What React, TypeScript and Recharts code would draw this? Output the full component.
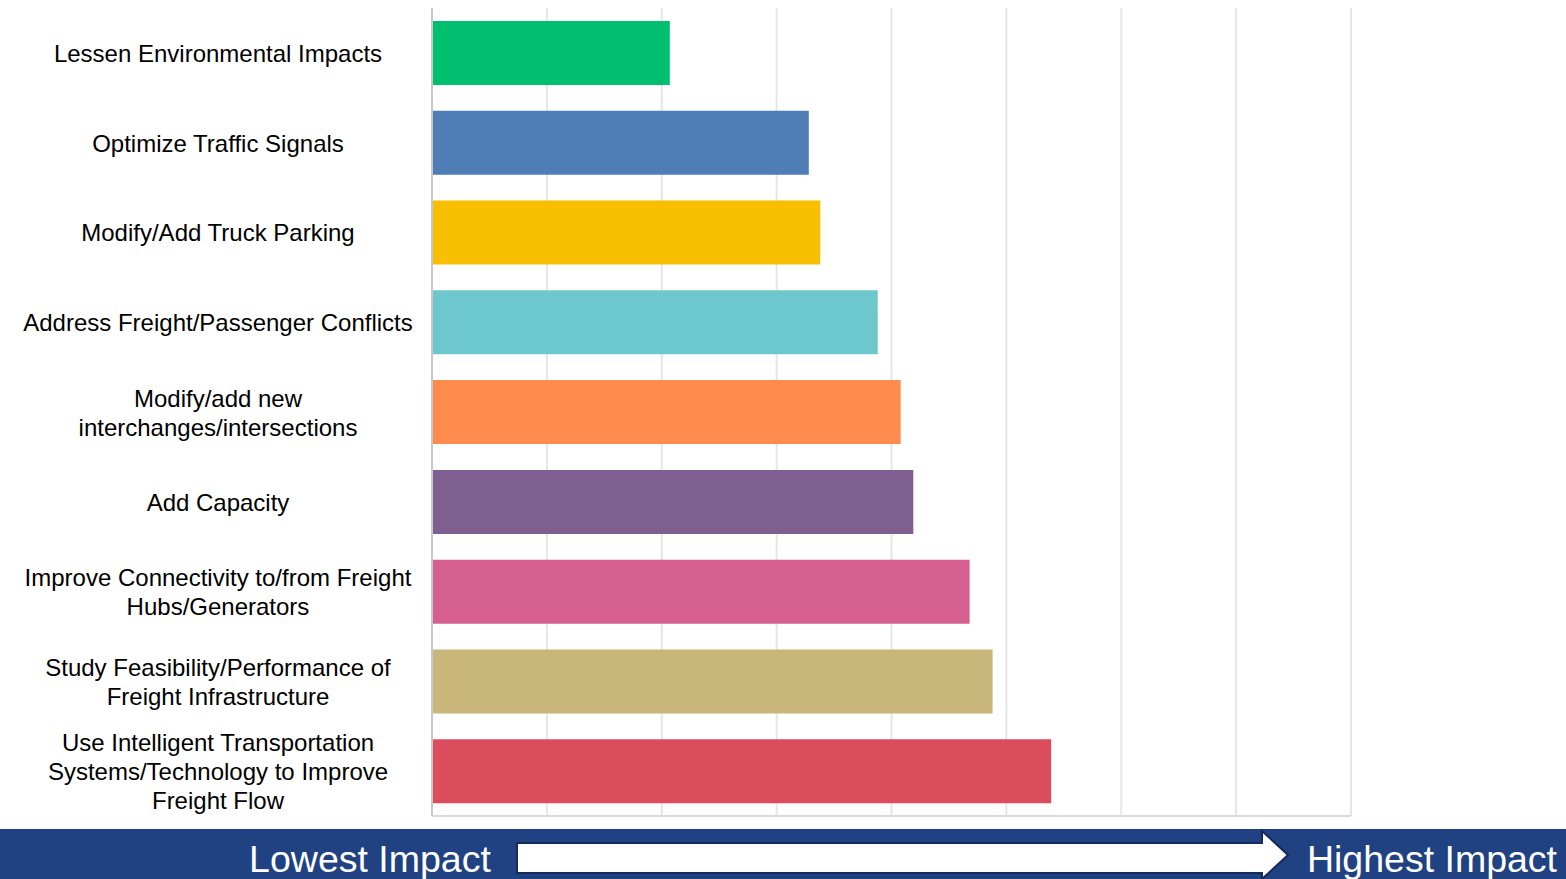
import React from "react";
import { BarChart, Bar, XAxis, YAxis, CartesianGrid, Cell } from "recharts";

const categories = [
  "Lessen Environmental Impacts",
  "Optimize Traffic Signals",
  "Modify/Add Truck Parking",
  "Address Freight/Passenger Conflicts",
  "Modify/add new\ninterchanges/intersections",
  "Add Capacity",
  "Improve Connectivity to/from Freight\nHubs/Generators",
  "Study Feasibility/Performance of\nFreight Infrastructure",
  "Use Intelligent Transportation\nSystems/Technology to Improve\nFreight Flow",
];

const impactScores = [2.07, 3.28, 3.38, 3.88, 4.08, 4.19, 4.68, 4.88, 5.39];

const barColors = [
  "#00BF6F",
  "#4F7DB5",
  "#F8BF00",
  "#6CC8CC",
  "#FF8B4F",
  "#7F5F8F",
  "#D56090",
  "#C8B67A",
  "#DB4D5D",
];

const gridTicks = [0, 1, 2, 3, 4, 5, 6, 7, 8];

const data = categories.map((name, i) => ({ name, score: impactScores[i] }));

const FONT = "'Liberation Sans', Arial, sans-serif";

const CategoryTick = (props: any) => {
  const { y, payload } = props;
  const lines = String(payload.value).split("\n");
  const lineH = 29;
  const startY = y - ((lines.length - 1) * lineH) / 2;
  return (
    <text
      x={218}
      y={startY}
      textAnchor="middle"
      dominantBaseline="central"
      fontFamily={FONT}
      fontSize={24}
      fill="#000"
    >
      {lines.map((line, i) => (
        <tspan key={i} x={218} y={startY + i * lineH} dominantBaseline="central">
          {line}
        </tspan>
      ))}
    </text>
  );
};

const EmptyTick = () => <g />;

const Banner = () => (
  <svg width={1566} height={50} style={{ display: "block" }}>
    <rect x={0} y={0} width={1566} height={50} fill="#204283" />
    <text x={370} y={30} textAnchor="middle" dominantBaseline="central" fontFamily={FONT} fontSize={37.5} fill="#fff">
      Lowest Impact
    </text>
    <polygon
      points="517,14 1262,14 1262,2 1288,26 1262,50 1262,44 517,44"
      fill="#fff"
      stroke="#142a5a"
      strokeWidth={2}
    />
    <text x={1432} y={30} textAnchor="middle" dominantBaseline="central" fontFamily={FONT} fontSize={37.5} fill="#fff">
      Highest Impact
    </text>
  </svg>
);

export default function App() {
  return (
    <div style={{ position: "absolute", left: 0, top: 0, width: 1566, height: 879, background: "#fff" }}>
      <BarChart
        width={1566}
        height={829}
        data={data}
        layout="vertical"
        margin={{ top: 8, right: 215, bottom: 11, left: 0 }}
        barCategoryGap={13}
      >
        <CartesianGrid horizontal={false} stroke="#e6e6e6" strokeWidth={2} />
        <XAxis
          type="number"
          domain={[0, 8]}
          ticks={gridTicks}
          tick={<EmptyTick />}
          tickLine={false}
          axisLine={{ stroke: "#d9d9d9", strokeWidth: 2 }}
          height={2}
        />
        <YAxis
          type="category"
          dataKey="name"
          width={432}
          tick={<CategoryTick />}
          tickLine={false}
          axisLine={{ stroke: "#c8c8c8", strokeWidth: 2 }}
          interval={0}
        />
        <Bar dataKey="score" isAnimationActive={false}>
          {data.map((d, i) => (
            <Cell key={d.name} fill={barColors[i]} />
          ))}
        </Bar>
      </BarChart>
      <Banner />
    </div>
  );
}
